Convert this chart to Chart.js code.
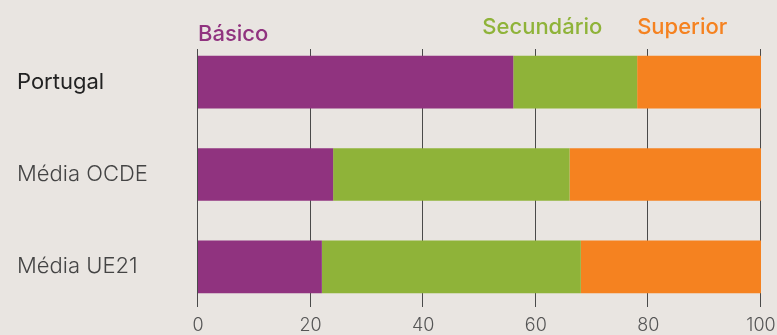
<!DOCTYPE html>
<html>
<head>
<meta charset="utf-8">
<script src="https://cdn.jsdelivr.net/npm/chart.js@4/dist/chart.umd.min.js"></script>
<style>
  html, body { margin: 0; padding: 0; background: #E9E5E1; }
  #wrap { width: 777px; height: 335px; }
</style>
</head>
<body>
<div id="wrap"><canvas id="c" width="777" height="335"></canvas></div>
<script>
const categories = ['Portugal', 'Média OCDE', 'Média UE21'];
const seriesNames = ['Básico', 'Secundário', 'Superior'];
const basico = [56, 24, 22];
const secundario = [22, 42, 46];
const superior = [22, 34, 32];
const xTickValues = [0, 20, 40, 60, 80, 100];

const colors = ['#90337F', '#8FB339', '#F58220'];
const FONT = 'Inter, Roboto, "Liberation Sans", sans-serif';

const gridPlugin = {
  id: 'customGrid',
  beforeDatasetsDraw(chart) {
    const { ctx, chartArea, scales } = chart;
    ctx.save();
    ctx.strokeStyle = '#4a4a4a';
    ctx.lineWidth = 1;
    xTickValues.forEach(v => {
      const x = Math.round(scales.x.getPixelForValue(v)) - 0.5;
      ctx.beginPath();
      ctx.moveTo(x, chartArea.top + 13);
      ctx.lineTo(x, chartArea.bottom - 6);
      ctx.stroke();
    });
    ctx.restore();
  }
};

const headerPlugin = {
  id: 'headers',
  afterDraw(chart) {
    const { ctx, scales } = chart;
    const anchors = [[0, 40.5], [50.5, 34], [78, 34]];
    ctx.save();
    ctx.font = '500 22px ' + FONT;
    ctx.textAlign = 'left';
    ctx.textBaseline = 'alphabetic';
    chart.data.datasets.forEach((ds, i) => {
      ctx.fillStyle = ds.backgroundColor;
      ctx.fillText(ds.label, scales.x.getPixelForValue(anchors[i][0]), anchors[i][1]);
    });
    ctx.restore();
  }
};

new Chart(document.getElementById('c'), {
  type: 'bar',
  data: {
    labels: categories,
    datasets: [
      { label: seriesNames[0], data: basico, backgroundColor: colors[0] },
      { label: seriesNames[1], data: secundario, backgroundColor: colors[1] },
      { label: seriesNames[2], data: superior, backgroundColor: colors[2] }
    ]
  },
  options: {
    indexAxis: 'y',
    responsive: false,
    animation: false,
    layout: { padding: { left: 17, top: 36, right: 16, bottom: 0 } },
    datasets: { bar: { categoryPercentage: 1, barPercentage: 0.57, borderWidth: 0 } },
    plugins: { legend: { display: false }, tooltip: { enabled: false } },
    scales: {
      x: {
        stacked: true,
        min: 0, max: 100,
        afterBuildTicks: (s) => { s.ticks = xTickValues.map(v => ({ value: v })); },
        afterFit: (s) => { s.paddingRight = 0; s.paddingLeft = 0; s.height = 22; },
        grid: { display: false, drawTicks: false, tickLength: 0 },
        border: { display: false },
        ticks: {
          padding: 3,
          color: '#555',
          font: { family: FONT, size: 18, weight: 300, lineHeight: 1.05 },
          maxRotation: 0
        }
      },
      y: {
        stacked: true,
        grid: { display: false, drawTicks: false, tickLength: 0 },
        border: { display: false },
        afterFit: (s) => { s.width = 181; },
        ticks: {
          crossAlign: 'far',
          color: (ctx) => ctx.index === 0 ? '#222' : '#444',
          font: (ctx) => ctx.index === 0
            ? { family: FONT, size: 22, weight: 400 }
            : { family: FONT, size: 22, weight: 300 }
        }
      }
    }
  },
  plugins: [gridPlugin, headerPlugin]
});
</script>
</body>
</html>
